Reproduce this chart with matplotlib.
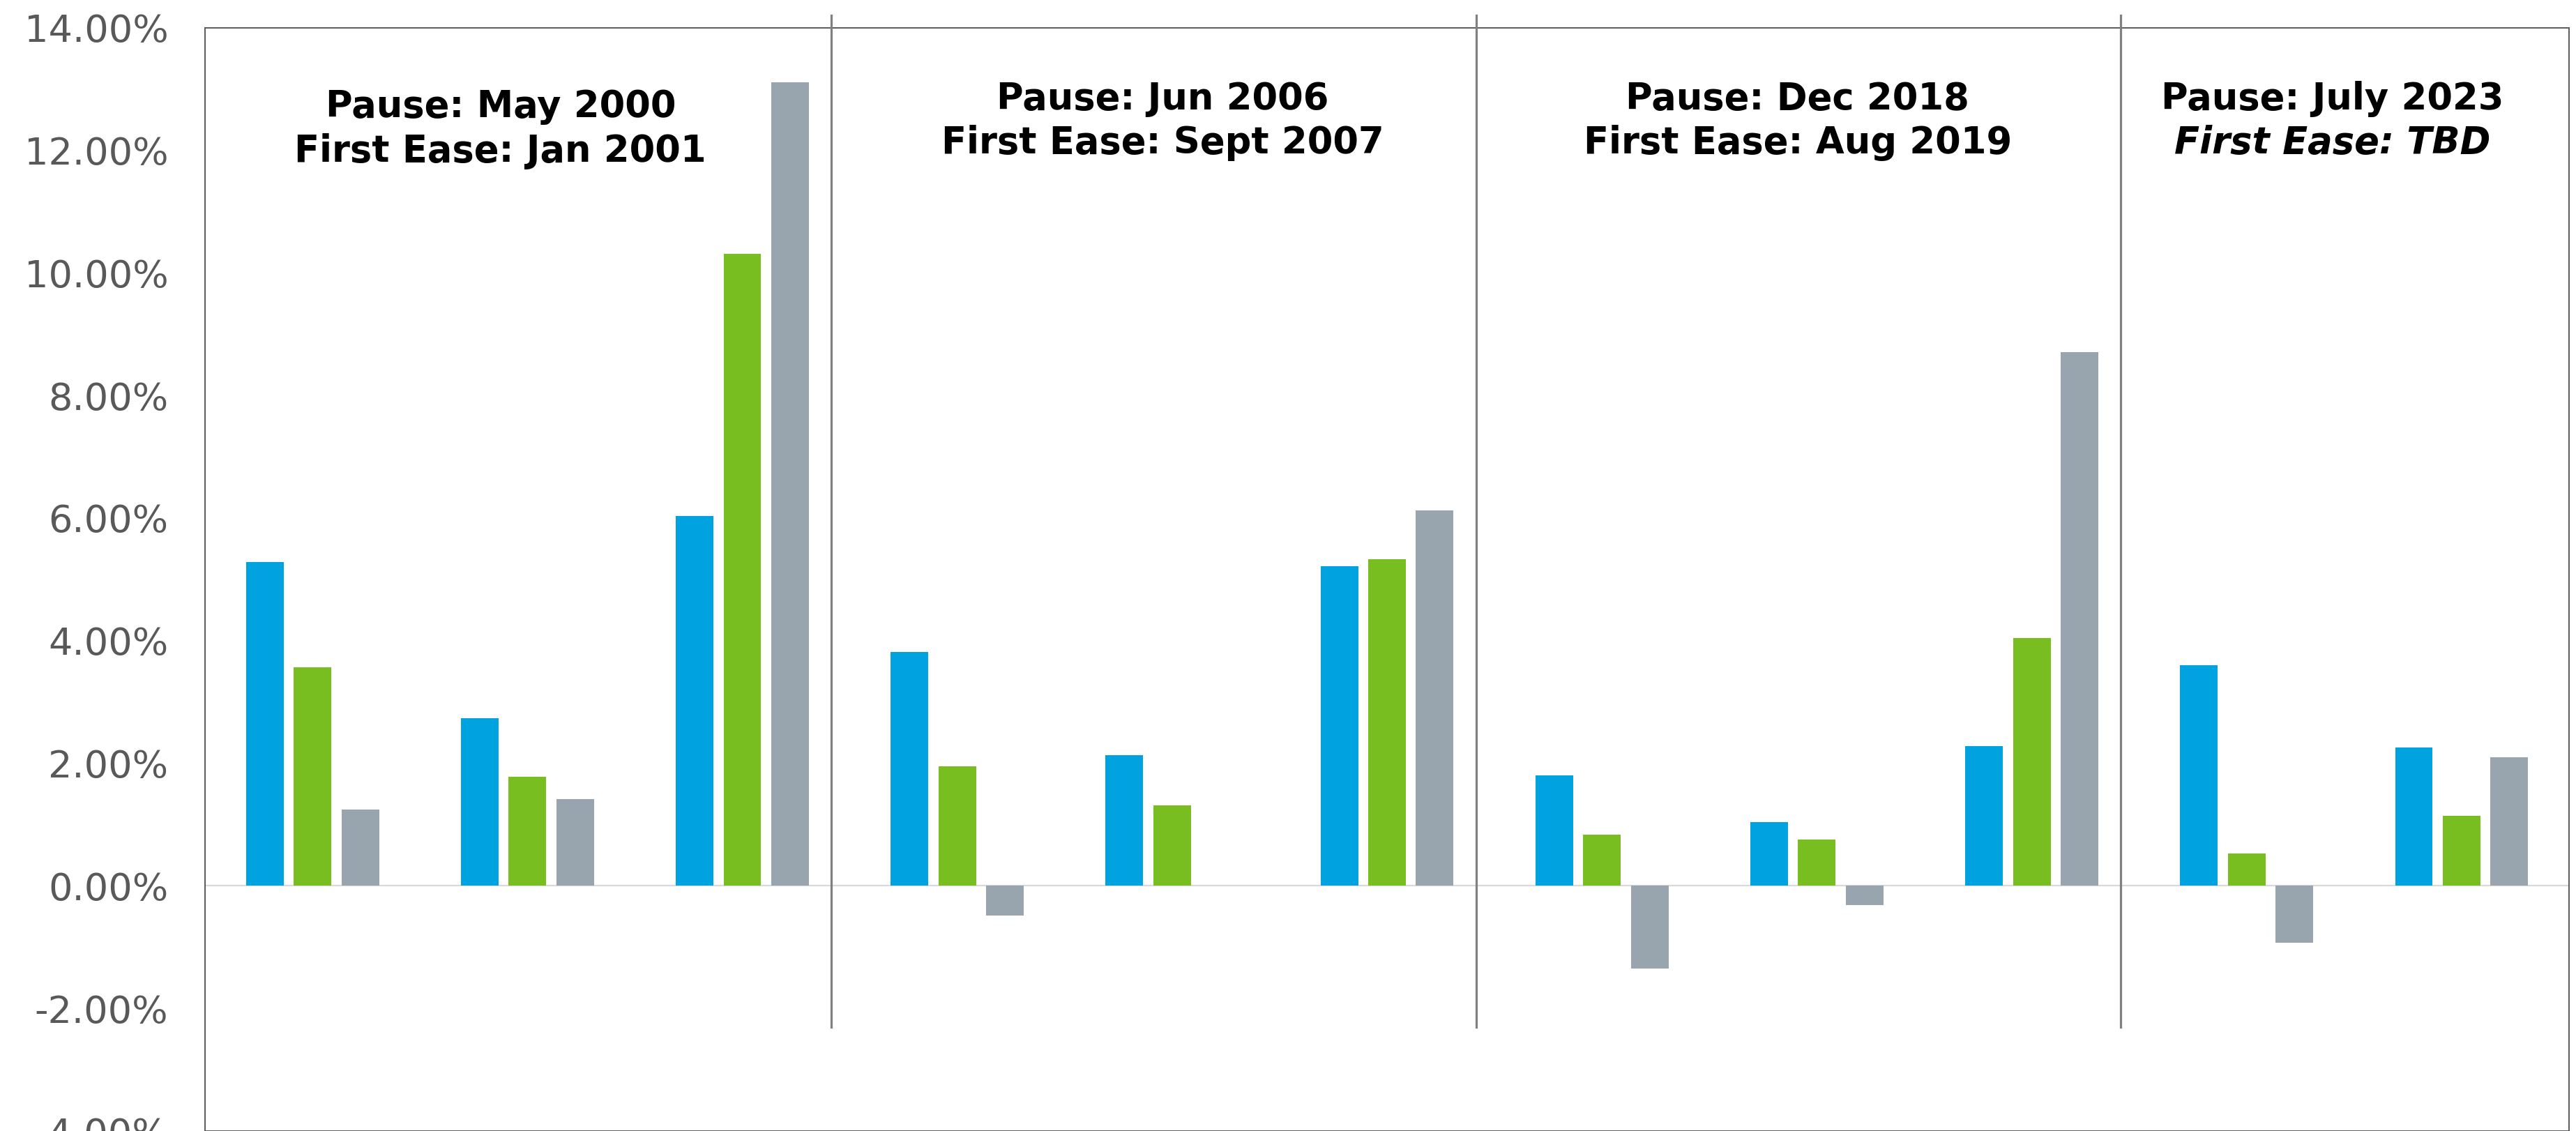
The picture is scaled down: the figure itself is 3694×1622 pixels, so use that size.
import numpy as np
import matplotlib
matplotlib.use("Agg")
import matplotlib.pyplot as plt

# Returns (%) for each period, grouped by pause/ease cycle
group_index = list(range(11))
blue_vals = [5.28, 2.73, 6.03, 3.82, 2.13, 5.21, 1.80, 1.04, 2.28, 3.60, 2.26]
green_vals = [3.56, 1.78, 10.31, 1.95, 1.31, 5.33, 0.84, 0.75, 4.04, 0.53, 1.14]
gray_vals = [1.25, 1.42, 13.11, -0.48, None, 6.12, -1.35, -0.31, 8.71, -0.93, 2.10]

# Cycle headers
pause_labels = ["Pause: May 2000", "Pause: Jun 2006", "Pause: Dec 2018", "Pause: July 2023"]
ease_labels = ["First Ease: Jan 2001", "First Ease: Sept 2007", "First Ease: Aug 2019", "First Ease: TBD"]
panel_last_group = [2, 5, 8]

y_ticks = [-4, -2, 0, 2, 4, 6, 8, 10, 12, 14]
y_tick_labels = ["-4.00%", "-2.00%", "0.00%", "2.00%", "4.00%", "6.00%",
                 "8.00%", "10.00%", "12.00%", "14.00%"]

BLUE = "#00A3E0"
GREEN = "#78BE20"
GRAY = "#98A4AE"

fig = plt.figure(figsize=(36.94, 16.22), dpi=100)
ax = fig.add_axes([0.0796, 0.0, 0.9177, 0.9755])

x = np.array(group_index, dtype=float)
offset = 0.222
width = 0.175

def to_arr(v):
    return np.array([np.nan if a is None else a for a in v], dtype=float)

ax.bar(x - offset, to_arr(blue_vals), width, color=BLUE, linewidth=0, zorder=3)
ax.bar(x, to_arr(green_vals), width, color=GREEN, linewidth=0, zorder=3)
ax.bar(x + offset, to_arr(gray_vals), width, color=GRAY, linewidth=0, zorder=3)

ax.set_xlim(-0.5, 10.5)
ax.set_ylim(-4, 14)
ax.set_yticks(y_ticks)
ax.set_yticklabels(y_tick_labels)
ax.set_xticks([])
ax.tick_params(axis="y", length=0, pad=38, labelsize=39, labelcolor="#595959")

for s in ax.spines.values():
    s.set_color("#595959")
    s.set_linewidth(1.4)

# zero line
ax.axhline(0, color="#D9D9D9", linewidth=1.6, zorder=2)

# panel separators
for g in panel_last_group:
    ax.plot([g + 0.415, g + 0.415], [-2.3, 14.2], color="#808080",
            linewidth=2.3, clip_on=False, zorder=4)

# panel headers
title_x = [0.875, 3.955, 6.91, 9.40]
line1_y = [12.54, 12.67, 12.67, 12.67]
line2_y = [11.81, 11.95, 11.95, 11.95]
for i in range(4):
    ax.text(title_x[i], line1_y[i], pause_labels[i], ha="center", va="baseline",
            fontsize=38, fontweight="bold", color="black", zorder=5)
    ax.text(title_x[i], line2_y[i], ease_labels[i], ha="center", va="baseline",
            fontsize=38, fontweight="bold", color="black", zorder=5,
            fontstyle="italic" if i == 3 else "normal")

fig.savefig("out.png", dpi=100, facecolor="white")
